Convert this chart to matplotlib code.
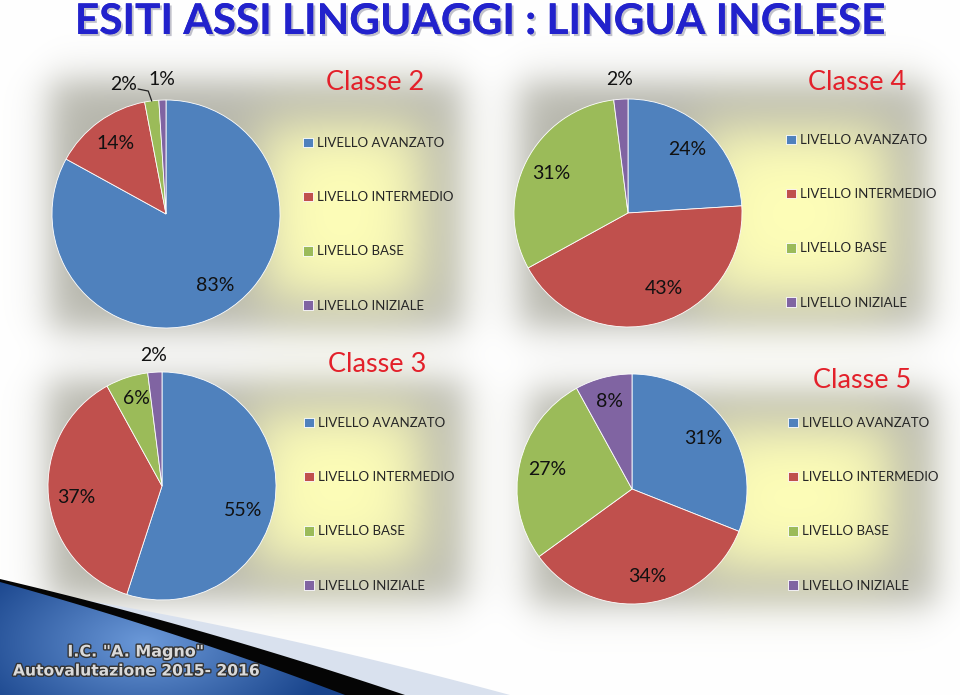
import numpy as np
import matplotlib
matplotlib.use("Agg")
import matplotlib.pyplot as plt
from matplotlib.patches import Polygon
from matplotlib.legend import Legend
import matplotlib.patheffects as pe

# ---------------- data ----------------
categories = ["LIVELLO AVANZATO", "LIVELLO INTERMEDIO", "LIVELLO BASE", "LIVELLO INIZIALE"]
classe2 = [83, 14, 2, 1]
classe4 = [24, 43, 31, 2]
classe3 = [55, 37, 6, 2]
classe5 = [31, 34, 27, 8]
titles = ["Classe 2", "Classe 4", "Classe 3", "Classe 5"]
main_title = "ESITI ASSI LINGUAGGI : LINGUA INGLESE"
footer1 = "I.C. \"A. Magno\""
footer2 = "Autovalutazione 2015- 2016"

colors = ["#4F81BD", "#C0504D", "#9BBB59", "#8064A2"]

W, H = 960, 695
fig = plt.figure(figsize=(W / 100, H / 100), dpi=100)
ax = fig.add_axes([0, 0, 1, 1])

def Y(yt):  # top-based pixel -> axes y
    return H - yt

# ---------------- glow backgrounds ----------------
XX, YY = np.meshgrid(np.arange(W) + 0.5, np.arange(H) + 0.5)
def sig(t):
    return 1.0 / (1.0 + np.exp(-t))
def srect(x0, x1, y0, y1, w):
    return sig((XX - x0) / w) * sig((x1 - XX) / w) * sig((YY - y0) / w) * sig((y1 - YY) / w)

img = np.ones((H, W, 3))
panels_outer = [(50, 462, 80, 330), (520, 928, 82, 328), (48, 465, 380, 600), (530, 935, 390, 605)]
panels_inner = [(262, 422, 125, 300), (700, 888, 128, 300), (252, 422, 410, 565), (700, 892, 425, 570)]
yellow = np.array([1.0, 1.0, 0.72])
shade = np.array([0.29, 0.29, 0.33])
for (o, i) in zip(panels_outer, panels_inner):
    S = srect(*o, 11)
    Yel = srect(*i, 17)
    img = img * (1 - S[..., None] * shade[None, None, :])
    img = img * (1 - Yel[..., None]) + yellow * Yel[..., None]
img = np.clip(img, 0, 1)
ax.imshow(img, extent=(0, W, 0, H), origin="upper", zorder=0, interpolation="bilinear")

# ---------------- bottom decoration ----------------
def bez(pts, n=60):
    pts = np.array(pts, float)
    t = np.linspace(0, 1, n)[:, None]
    return (1 - t) ** 2 * pts[0] + 2 * (1 - t) * t * pts[1] + t ** 2 * pts[2]

light_top = bez([(60, 596), (270, 630), (510, 695)])
black_top = bez([(0, 579), (200, 626), (405, 695)])
blue_top = bez([(0, 582), (180, 632), (345, 695)])

def poly_from_top(top, extra=()):
    return [(x, Y(y)) for x, y in top] + [(top[-1][0], Y(H)), (0, Y(H))] + list(extra)

ax.add_patch(Polygon(poly_from_top(light_top, [(0, Y(600))]), closed=True, fc="#D9E1EE", ec="none", zorder=5))
ax.add_patch(Polygon(poly_from_top(black_top), closed=True, fc="#050505", ec="none", zorder=6))
bp = Polygon(poly_from_top(blue_top), closed=True, fc="none", ec="none", zorder=7)
ax.add_patch(bp)
gx = np.linspace(0, 1, 300)
gy = np.linspace(0, 1, 100)
GX, GY = np.meshgrid(gx, gy)
d = np.sqrt(((GX - 0.42) / 0.55) ** 2 + ((GY - 0.55) / 0.9) ** 2)
t = np.clip(d, 0, 1)
c_light = np.array([0.42, 0.60, 0.85])
c_dark = np.array([0.10, 0.27, 0.55])
grad = c_light * (1 - t[..., None]) + c_dark * t[..., None]
gim = ax.imshow(grad, extent=(0, 345, 0, Y(578)), origin="upper", zorder=7, interpolation="bilinear")
gim.set_clip_path(bp)

fpe = [pe.withStroke(linewidth=2.0, foreground="#333333")]
ax.text(136, Y(652), footer1, ha="center", va="center", fontsize=11.5, fontweight="bold",
        color="#DADADA", family="DejaVu Sans", zorder=9, path_effects=fpe)
ax.text(136, Y(671), footer2, ha="center", va="center", fontsize=11.2, fontweight="bold",
        color="#DADADA", family="DejaVu Sans", zorder=9, path_effects=fpe)

# ---------------- title ----------------
ax.text(480, Y(22), main_title, ha="center", va="center", fontsize=30.5, fontweight="bold",
        color="#2222CC", family="Lato", zorder=10,
        path_effects=[pe.withSimplePatchShadow(offset=(1.5, -1.5), shadow_rgbFace="#9999aa", alpha=0.6), pe.Normal()])

# ---------------- pies ----------------
series = [classe2, classe4, classe3, classe5]
centers = [(166, 214), (628, 213), (162, 486), (632, 489)]
radii = [114, 114, 114, 115]
label_dist = [[0.76, 0.76, 1.20, 1.18], [0.76, 0.73, 0.76, 1.17], [0.74, 0.76, 0.80, 1.15], [0.76, 0.77, 0.76, 0.79]]
label_off = [[4, 0, 11, 0], [0, 9, 0, 0], [-8, 2, -2, 0], [1, 3, 0, 0]]
title_pos = [(375, 83), (857, 83), (377, 364), (862, 380)]
legend_pos = [(303, 137), (786, 134), (304, 417), (788, 417)]

for k, vals in enumerate(series):
    cx, cy = centers[k]
    r = radii[k]
    wedges, _ = ax.pie(vals, colors=colors, startangle=90, counterclock=False,
                       center=(cx, Y(cy)), radius=r,
                       wedgeprops=dict(linewidth=0.6, edgecolor="white"))
    for w in wedges:
        w.set_zorder(3)
    for j, (w, v) in enumerate(zip(wedges, vals)):
        mid = 0.5 * (w.theta1 + w.theta2)
        a = np.deg2rad(mid + label_off[k][j])
        dd = label_dist[k][j] * r
        tx, ty = cx + dd * np.cos(a), Y(cy) + dd * np.sin(a)
        ax.text(tx, ty, f"{v}%", ha="center", va="center", fontsize=14,
                family="Lato", color="#111111", zorder=8)
        if k == 0 and j == 2:
            am = np.deg2rad(mid)
            ex, ey = cx + r * np.cos(am), Y(cy) + r * np.sin(am)
            ax.plot([tx + 15, tx + 25, ex], [ty - 5, ty - 7, ey], color="#222222", lw=0.9, zorder=8)
    tx, ty = title_pos[k]
    ax.text(tx, Y(ty), titles[k], ha="center", va="center", fontsize=19.5, family="Lato",
            color="#E3202A", zorder=8)
    lx, ly = legend_pos[k]
    leg = Legend(ax, wedges, categories, loc="upper left", bbox_to_anchor=(lx, Y(ly)),
                 bbox_transform=ax.transData, frameon=False,
                 handlelength=0.75, handleheight=0.75, handletextpad=0.3,
                 labelspacing=3.2, borderpad=0, borderaxespad=0,
                 prop=dict(family="Lato", size=9.5))
    for t_ in leg.get_texts():
        t_.set_color("#262626")
    leg.set_zorder(8)
    ax.add_artist(leg)

ax.set_xlim(0, W)
ax.set_ylim(0, H)
ax.set_aspect("auto")
ax.axis("off")
fig.savefig("out.png", dpi=100)
